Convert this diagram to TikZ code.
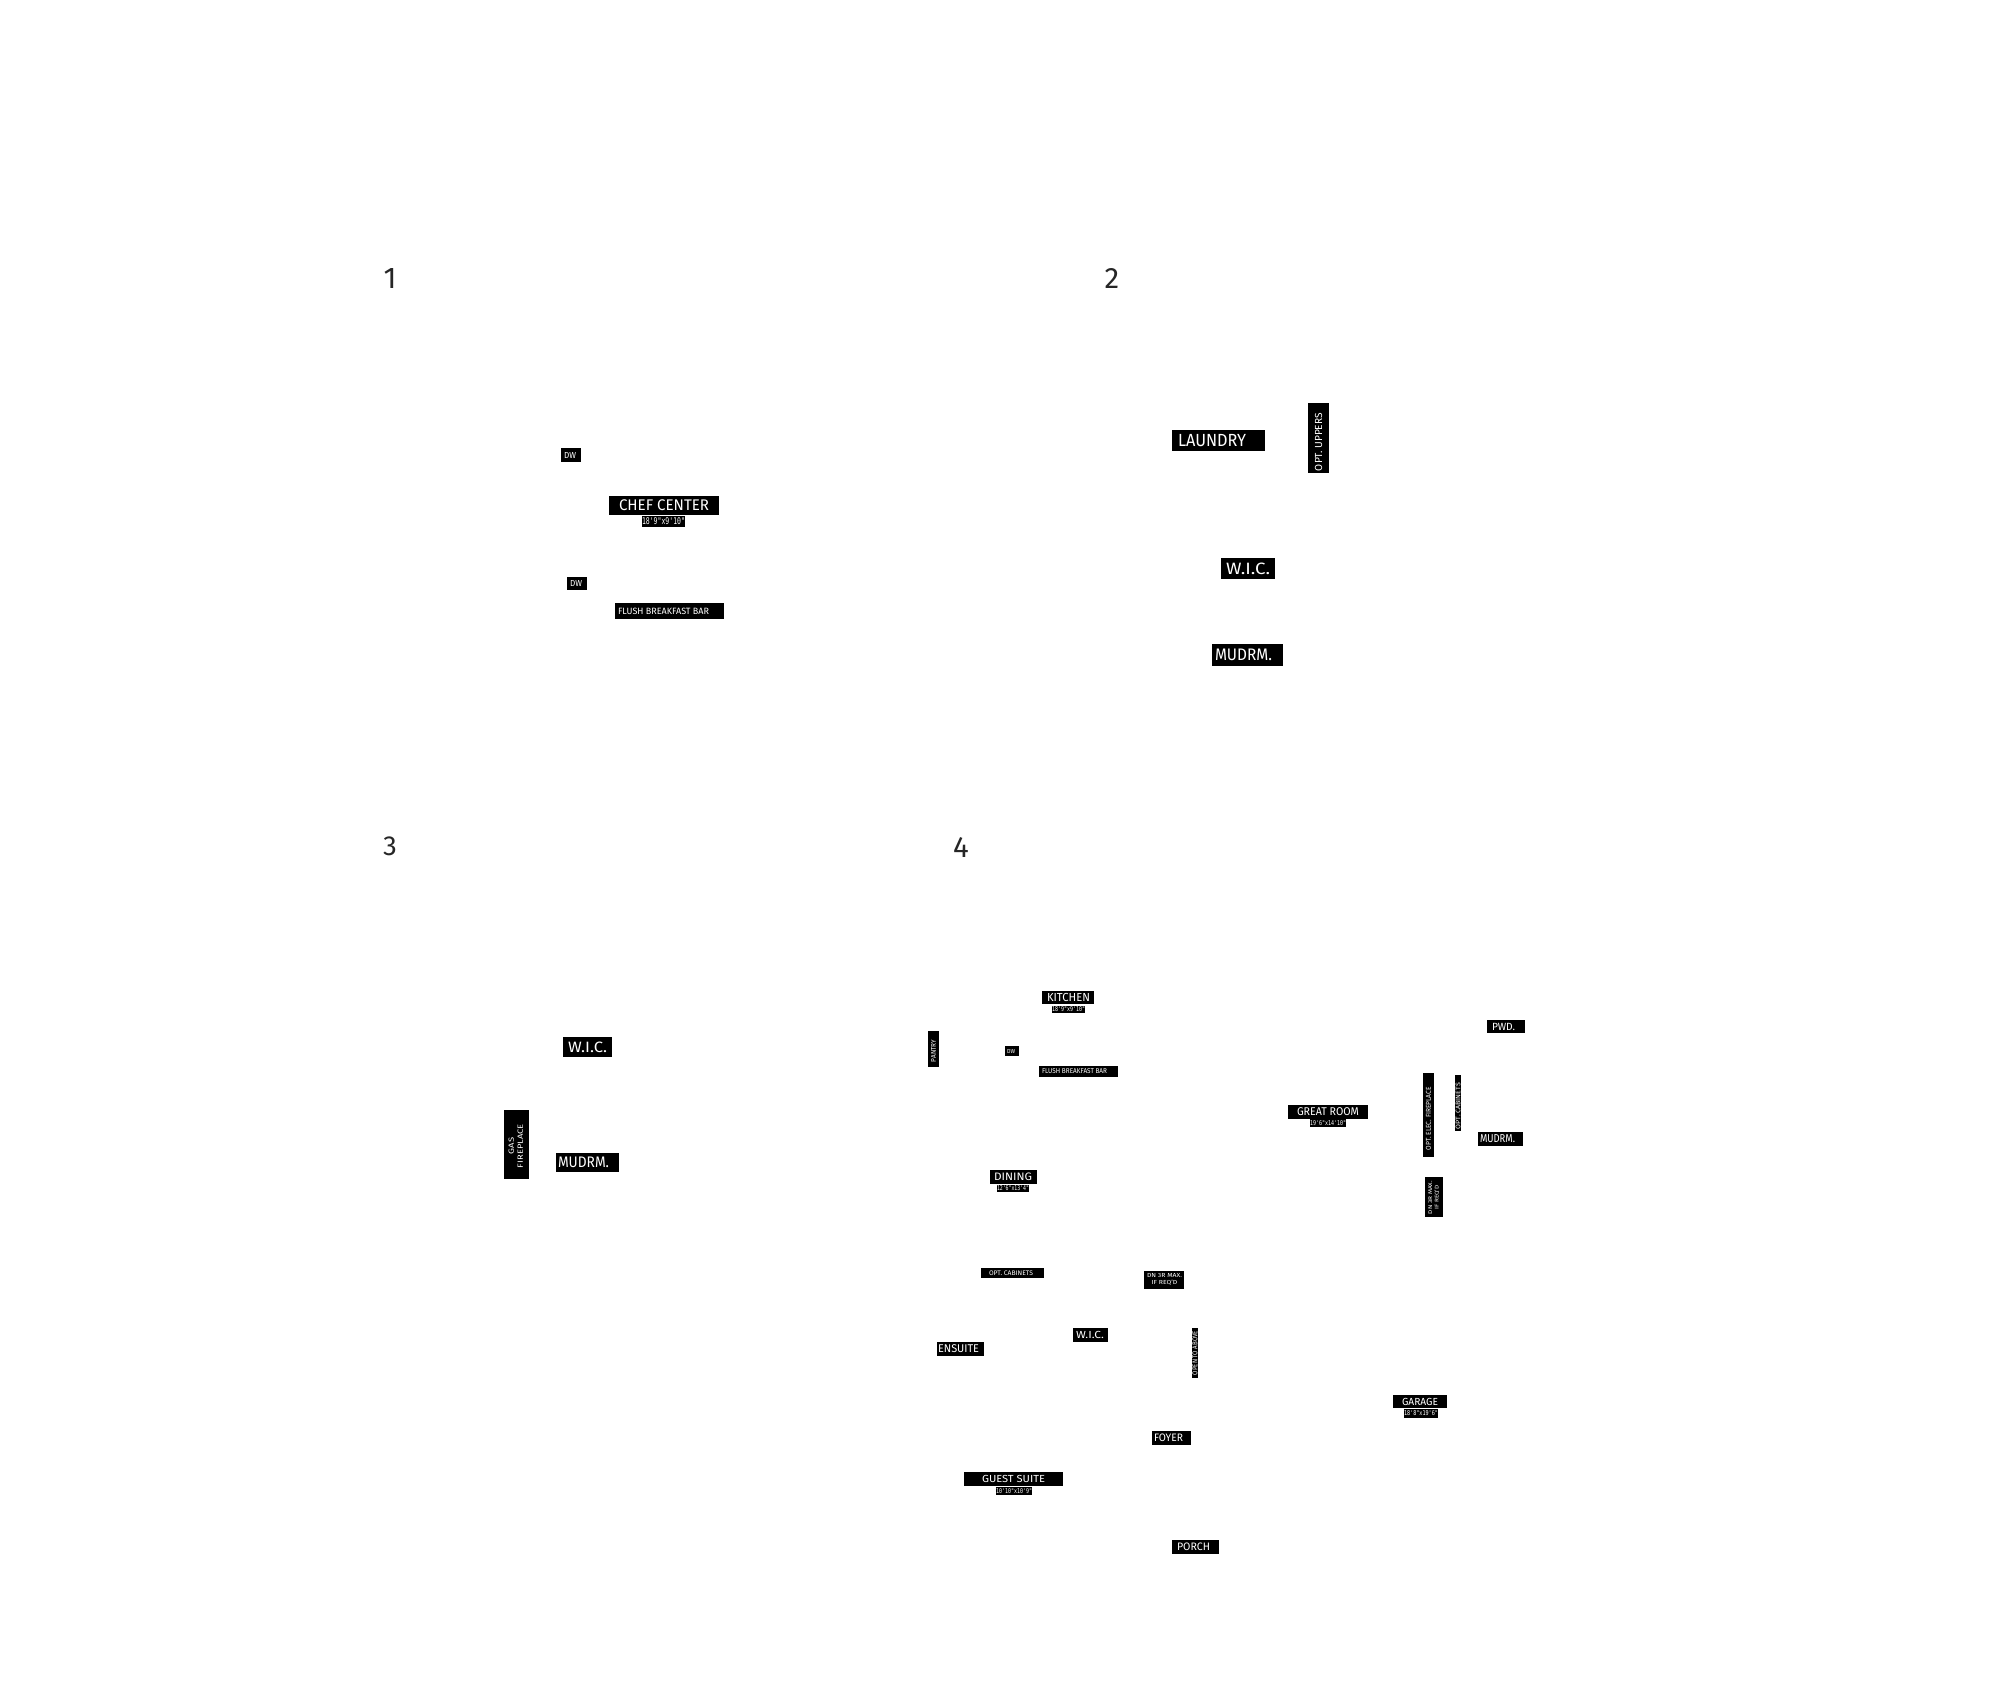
\documentclass[tikz,border=0pt]{standalone}
\usepackage{fontspec}
\setmainfont{Fira Sans}
\setmonofont{DejaVu Sans Mono}
\usepackage{graphicx}
\tikzset{
  lblbox/.style={fill=black, text=white, inner sep=0pt, outer sep=0pt, anchor=center},
  panelnum/.style={inner sep=0pt, text=black!85}
}
% name, x1, y1, x2, y2, text-left-x, text width, text height, text
\newcommand\putlabel[9]{%
  \pgfmathsetmacro\lblW{#4-#2}\pgfmathsetmacro\lblH{#5-#3}\pgfmathsetmacro\lblP{#6-#2}%
  \node[lblbox, minimum width=\lblW pt, minimum height=\lblH pt] (#1) at ({(#2+#4)/2},{(#3+#5)/2})
    {\makebox[\lblW pt][l]{\hspace*{\lblP pt}\resizebox*{#7pt}{#8pt}{#9}}};}
% name, x1, y1, x2, y2, offset from bottom, text length, text thickness, text (reads bottom to top)
\newcommand\vlabel[9]{%
  \pgfmathsetmacro\lblW{#5-#3}\pgfmathsetmacro\lblH{#4-#2}%
  \node[lblbox, rotate=90, minimum width=\lblW pt, minimum height=\lblH pt] (#1) at ({(#2+#4)/2},{(#3+#5)/2})
    {\makebox[\lblW pt][l]{\hspace*{#6pt}\resizebox*{#7pt}{#8pt}{#9}}};}
\newcommand\twoline[2]{\begin{tabular}{@{}c@{}}#1\\#2\end{tabular}}
\begin{document}
\begin{tikzpicture}[x=1pt,y=-1pt]
\useasboundingbox (0,0) rectangle (2000,1706);
\fill[white] (0,0) rectangle (2000,1706);
% panel numbers
\node[panelnum] (n1) at (390,278) {\resizebox*{!}{20pt}{1}};
\node[panelnum] (n2) at (1112,278) {\resizebox*{!}{20pt}{2}};
\node[panelnum] (n3) at (390,846) {\resizebox*{!}{19pt}{3}};
\node[panelnum] (n4) at (961,847) {\resizebox*{!}{20pt}{4}};
% panel 1
\putlabel{dwa}{561}{448}{581}{462}{564}{12}{6}{DW}
\putlabel{chef}{609}{496}{719}{515}{619}{90}{11}{CHEF CENTER}
\putlabel{chefdim}{642}{516}{685}{527}{642}{43}{7}{\texttt{18'9"x9'10"}}
\putlabel{dwb}{567}{577}{587}{590}{570}{12}{6}{DW}
\putlabel{fbba}{615}{603}{724}{619}{618}{91}{6.5}{FLUSH BREAKFAST BAR}
% panel 2
\putlabel{laundry}{1172}{430}{1265}{451}{1178}{68}{12.3}{LAUNDRY}
\vlabel{uppers}{1308}{403}{1329}{473}{2}{58}{7.3}{OPT. UPPERS}
\putlabel{wicb}{1221}{558}{1275}{579}{1226}{44}{11.7}{W.I.C.}
\putlabel{mudb}{1212}{644}{1283}{666}{1215}{57}{11.7}{MUDRM.}
% panel 3
\putlabel{wicc}{563}{1037}{612}{1057}{568}{39}{10.7}{W.I.C.}
\vlabel{gasfp}{504}{1110}{529}{1179}{11}{44}{18}{\twoline{GAS}{FIREPLACE}}
\putlabel{mudc}{556}{1153}{619}{1172}{558}{51}{10.7}{MUDRM.}
% panel 4
\putlabel{kitchen}{1042}{991}{1094}{1004}{1047}{43}{8.3}{KITCHEN}
\putlabel{kitdim}{1052}{1006}{1085}{1013}{1052}{33}{5}{\texttt{18'9"x9'10"}}
\vlabel{pantry}{928}{1031}{939}{1067}{5}{22}{4.7}{PANTRY}
\putlabel{dwd}{1005}{1046}{1019}{1056}{1007}{8}{4}{DW}
\putlabel{fbbd}{1039}{1066}{1118}{1077}{1042}{65}{5}{FLUSH BREAKFAST BAR}
\putlabel{dining}{990}{1170}{1037}{1184}{994}{38}{7.7}{DINING}
\putlabel{dindim}{997}{1185}{1029}{1192}{997}{32}{5}{\texttt{12'6"x13'4"}}
\putlabel{optcab}{981}{1268}{1044}{1278}{989}{44}{4.7}{OPT. CABINETS}
\putlabel{dnmid}{1144}{1271}{1184}{1289}{1147}{35}{14}{\twoline{DN 3R MAX.}{IF REQ'D}}
\putlabel{wicd}{1073}{1328}{1108}{1342}{1076}{28}{7.3}{W.I.C.}
\putlabel{ensuite}{937}{1342}{984}{1356}{938}{41}{8}{ENSUITE}
\vlabel{opento}{1192}{1328}{1198}{1378}{3}{44}{5}{OPEN TO ABOVE}
\putlabel{pwd}{1487}{1020}{1525}{1033}{1492}{23}{7.3}{PWD.}
\putlabel{great}{1288}{1105}{1368}{1119}{1297}{62}{8}{GREAT ROOM}
\putlabel{greatdim}{1310}{1119}{1346}{1127}{1310}{36}{5}{\texttt{19'6"x14'10"}}
\vlabel{elecfp}{1423}{1073}{1434}{1157}{7}{63}{5}{OPT. ELEC. FIREPLACE}
\vlabel{optcabv}{1455}{1075}{1461}{1131}{2}{46}{4.7}{OPT. CABINETS}
\putlabel{mudd}{1478}{1132}{1523}{1146}{1480}{35}{8}{MUDRM.}
\vlabel{dnright}{1425}{1177}{1443}{1217}{3}{33}{13}{\twoline{DN 3R MAX.}{IF REQ'D}}
\putlabel{foyer}{1152}{1431}{1191}{1445}{1154}{29}{7.7}{FOYER}
\putlabel{guest}{964}{1472}{1063}{1486}{982}{63}{7.3}{GUEST SUITE}
\putlabel{guestdim}{996}{1487}{1032}{1495}{996}{36}{5}{\texttt{10'10"x10'9"}}
\putlabel{porch}{1172}{1540}{1219}{1554}{1177}{33}{7.7}{PORCH}
\putlabel{garage}{1393}{1395}{1447}{1408}{1402}{36}{7.3}{GARAGE}
\putlabel{garagedim}{1404}{1409}{1438}{1418}{1404}{34}{5}{\texttt{18'8"x19'6"}}
\end{tikzpicture}
\end{document}
